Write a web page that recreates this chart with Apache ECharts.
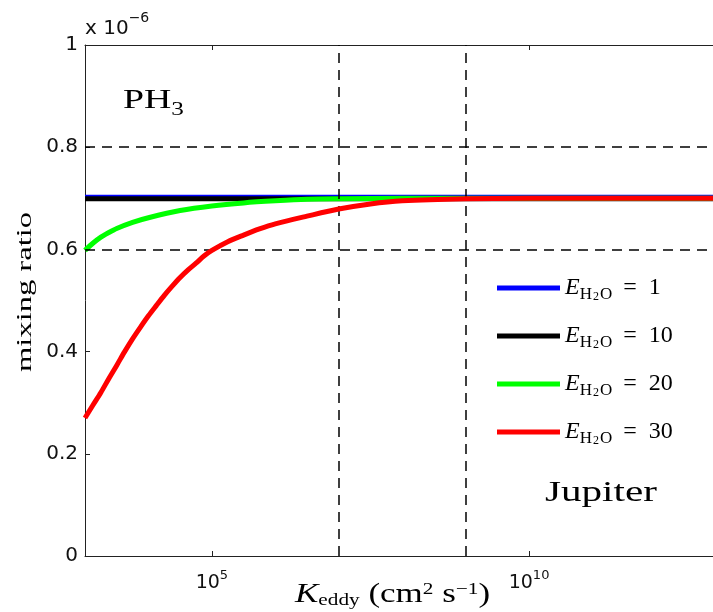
<!DOCTYPE html>
<html>
<head>
<meta charset="utf-8">
<script src="https://cdn.jsdelivr.net/npm/echarts@6/dist/echarts.min.js"></script>
<style>
html,body{margin:0;padding:0;background:#fff;}
#chart{width:713px;height:612px;}
</style>
</head>
<body>
<div id="chart"></div>
<script>
// ---- data (mixing ratio in units of 1e-6, K_eddy in cm^2 s^-1) ----
const seriesLabels = ['1', '10', '20', '30'];
const seriesColors = ['#0000ff', '#000000', '#00ff00', '#ff0000'];

const xMin = 1e3;
const xMax = 7.94e12; // right edge of the visible (cropped) plot

const kBlue = [1e3, 1e13];
const vBlue = [0.702, 0.702];

const kBlack = [1e3, 1e13];
const vBlack = [0.699, 0.699];

const kGreen = [1e3, 1.33e3, 1.78e3, 2.37e3, 3.16e3, 5.62e3, 1e4, 3.16e4, 1e5, 3.16e5, 1e6, 3.16e6, 1e7, 1e8, 1e13];
const vGreen = [0.598, 0.612, 0.624, 0.633, 0.641, 0.653, 0.662, 0.676, 0.685, 0.691, 0.695, 0.698, 0.699, 0.700, 0.700];

const kRed = [1e3, 1.33e3, 1.78e3, 2.37e3, 3.16e3, 4.22e3, 5.62e3, 7.5e3, 1e4, 1.33e4, 1.78e4, 2.37e4, 3.16e4, 4.22e4, 5.62e4, 7.5e4, 1e5, 1.78e5, 3.16e5, 5.62e5, 1e6, 3.16e6, 1e7, 3.16e7, 1e8, 1e9, 1e10, 1e13];
const vRed = [0.270, 0.295, 0.320, 0.347, 0.373, 0.400, 0.425, 0.448, 0.470, 0.490, 0.510, 0.528, 0.545, 0.560, 0.573, 0.587, 0.598, 0.615, 0.628, 0.640, 0.650, 0.665, 0.679, 0.689, 0.695, 0.699, 0.700, 0.700];

const xTickValues = [1e5, 1e10];
const yTicks = [0, 0.2, 0.4, 0.6, 0.8, 1];
const vLines = [1e7, 1e9];
const hLines = [0.6, 0.8];

const zip = (xs, ys) => xs.map((x, i) => [x, ys[i]]);
const seriesData = [zip(kBlue, vBlue), zip(kBlack, vBlack), zip(kGreen, vGreen), zip(kRed, vRed)];

const chart = echarts.init(document.getElementById('chart'), null, {renderer: 'canvas'});

const serif = 'Liberation Serif';
const sans = 'DejaVu Sans';

const legendRich = {
  e: {fontFamily: serif, fontStyle: 'italic', fontSize: 24, lineHeight: 30, color: '#000'},
  h: {fontFamily: serif, fontSize: 17, verticalAlign: 'bottom', color: '#000'},
  t: {fontFamily: serif, fontSize: 12, verticalAlign: 'bottom', color: '#000', padding: [0, 1, 0, 1]},
  eq: {fontFamily: serif, fontSize: 24, lineHeight: 30, color: '#000', padding: [0, 12, 0, 11]},
  v: {fontFamily: serif, fontSize: 24, lineHeight: 30, color: '#000'}
};

const series = seriesData.map((d, i) => ({
  name: 'E' + seriesLabels[i],
  type: 'line',
  data: d,
  showSymbol: false,
  symbol: 'none',
  smooth: 0.3,
  color: seriesColors[i],
  lineStyle: {color: seriesColors[i], width: 5},
  itemStyle: {color: seriesColors[i]},
  z: 2 + i
}));

series[3].markLine = {
  silent: true,
  symbol: 'none',
  label: {show: false},
  lineStyle: {color: '#000', width: 1.5, type: [10, 7]},
  data: vLines.map(v => ({xAxis: v})).concat(hLines.map(v => ({yAxis: v}))),
  animation: false
};

const expLabel = v => '{b|10}{s|' + Math.round(Math.log10(v)) + '}';

const option = {
  animation: false,
  backgroundColor: '#fff',
  grid: {left: 85, top: 45, right: 0, bottom: 56, containLabel: false},
  xAxis: [{
    type: 'log',
    min: xMin, max: xMax,
    axisLine: {show: true, lineStyle: {color: '#222', width: 1}},
    axisTick: {show: true, inside: true, length: 5, customValues: xTickValues, lineStyle: {color: '#222'}},
    axisLabel: {
      show: true, margin: 13, customValues: xTickValues,
      formatter: expLabel,
      rich: {
        b: {fontFamily: sans, fontSize: 19, lineHeight: 29, color: '#111'},
        s: {fontFamily: sans, fontSize: 13, verticalAlign: 'top', color: '#111'}
      }
    },
    minorTick: {show: false},
    splitLine: {show: false}
  }, {
    type: 'log', position: 'top',
    min: xMin, max: xMax,
    axisLine: {show: true, lineStyle: {color: '#222', width: 1}},
    axisTick: {show: true, inside: true, length: 5, customValues: xTickValues, lineStyle: {color: '#222'}},
    axisLabel: {show: false},
    splitLine: {show: false}
  }],
  yAxis: {
    type: 'value',
    min: yTicks[0], max: yTicks[yTicks.length - 1], interval: 0.2,
    axisLine: {show: true, lineStyle: {color: '#222', width: 1}},
    axisTick: {show: true, inside: true, length: 5, lineStyle: {color: '#222'}},
    axisLabel: {margin: 7, fontFamily: sans, fontSize: 20, color: '#111'},
    splitLine: {show: false}
  },
  legend: {
    orient: 'vertical',
    left: 497, top: 276,
    padding: 0,
    itemGap: 21,
    itemWidth: 63, itemHeight: 5,
    icon: 'rect',
    selectedMode: false,
    data: series.map(s => s.name),
    formatter: name => '{e|E}{h|H}{t|2}{h|O}{eq|=}{v|' + name.slice(1) + '}',
    textStyle: {rich: legendRich}
  },
  series: series,
  graphic: [
    {
      type: 'text', x: 85, y: 11,
      style: {
        text: '{a|x 10}{b|\u22126}',
        textVerticalAlign: 'top',
        rich: {
          a: {fontFamily: sans, fontSize: 20, lineHeight: 36, fill: '#111'},
          b: {fontFamily: sans, fontSize: 14, verticalAlign: 'top', fill: '#111'}
        }
      }
    },
    {
      type: 'text', x: 123, y: 101, scaleX: 1.4,
      style: {
        text: '{a|PH}{b|3}',
        textVerticalAlign: 'middle',
        rich: {
          a: {fontFamily: serif, fontSize: 27, lineHeight: 36, fill: '#000'},
          b: {fontFamily: serif, fontSize: 18, verticalAlign: 'bottom', fill: '#000'}
        }
      }
    },
    {
      type: 'text', x: 545, y: 493, scaleX: 1.37,
      style: {
        text: 'Jupiter',
        font: '30px "Liberation Serif"',
        fill: '#000',
        textVerticalAlign: 'middle'
      }
    },
    {
      type: 'text', x: 295, y: 595, scaleX: 1.25,
      style: {
        text: '{k|K}{sub|eddy}{p| (cm}{sup|2}{p| s}{sup|\u22121}{p|)}',
        textVerticalAlign: 'middle',
        rich: {
          k: {fontFamily: serif, fontStyle: 'italic', fontSize: 28, lineHeight: 28, fill: '#000'},
          sub: {fontFamily: serif, fontSize: 17, verticalAlign: 'bottom', fill: '#000'},
          p: {fontFamily: serif, fontSize: 28, lineHeight: 28, fill: '#000'},
          sup: {fontFamily: serif, fontSize: 17, verticalAlign: 'top', fill: '#000'}
        }
      }
    },
    {
      type: 'text', x: 25, y: 292, rotation: Math.PI / 2, scaleX: 1.55,
      style: {
        text: 'mixing ratio',
        font: '21px "Liberation Serif"',
        fill: '#000',
        textAlign: 'center',
        textVerticalAlign: 'middle'
      }
    }
  ]
};

chart.setOption(option);
</script>
</body>
</html>
